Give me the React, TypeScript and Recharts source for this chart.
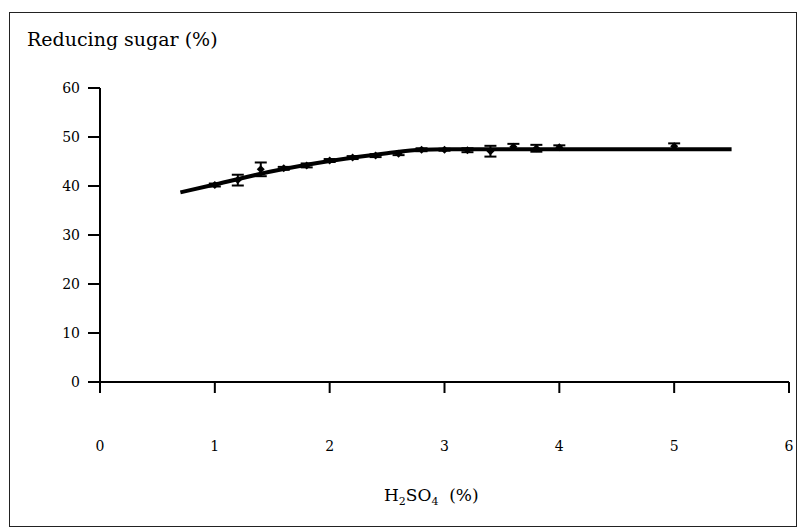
import {
  ComposedChart,
  Line,
  Scatter,
  ErrorBar,
  XAxis,
  YAxis,
} from "recharts"

// measured points (acid %, reducing sugar %, error)
const acid = [1.0, 1.2, 1.4, 1.6, 1.8, 2.0, 2.2, 2.4, 2.6, 2.8, 3.0, 3.2, 3.4, 3.6, 3.8, 4.0, 5.0]
const sugar = [40.2, 41.2, 43.4, 43.6, 44.2, 45.2, 45.8, 46.2, 46.6, 47.4, 47.4, 47.3, 47.1, 48.0, 47.7, 47.9, 48.1]
const sugarErr = [0.3, 1.1, 1.4, 0.3, 0.4, 0.3, 0.3, 0.3, 0.3, 0.3, 0.2, 0.4, 1.1, 0.6, 0.7, 0.4, 0.6]

// fitted curve
const fitAcid = [0.7, 1.0, 1.5, 2.0, 2.5, 2.8, 3.0, 4.0, 5.5]
const fitSugar = [38.7, 40.3, 43.0, 45.1, 46.7, 47.4, 47.5, 47.5, 47.5]

const xTicks = [0, 1, 2, 3, 4, 5, 6]
const yTicks = [0, 10, 20, 30, 40, 50, 60]

const points = acid.map((x, i) => ({ x, y: sugar[i], err: sugarErr[i] }))
const fit = fitAcid.map((x, i) => ({ x, y: fitSugar[i] }))

const FONT = "'DejaVu Serif', serif"

const Diamond = (props: any) => {
  const { cx, cy } = props
  return (
    <path
      d={`M${cx - 4},${cy} L${cx},${cy - 4} L${cx + 4},${cy} L${cx},${cy + 4} Z`}
      fill="#000"
    />
  )
}

export default function App() {
  return (
    <div style={{ position: "fixed", left: 0, top: 0, width: 799, height: 529, background: "#fff" }}>
      <div
        style={{
          position: "absolute",
          left: 9,
          top: 12,
          width: 788,
          height: 515,
          border: "1px solid #222",
          boxSizing: "border-box",
        }}
      />
      <div
        style={{
          position: "absolute",
          left: 27,
          top: 28,
          fontFamily: FONT,
          fontSize: 19,
          color: "#000",
          whiteSpace: "nowrap",
        }}
      >
        Reducing sugar (%)
      </div>
      <div
        style={{
          position: "absolute",
          left: 384,
          top: 485,
          fontFamily: FONT,
          fontSize: 17,
          color: "#000",
          whiteSpace: "nowrap",
        }}
      >
        H<sub style={{ fontSize: 11 }}>2</sub>SO<sub style={{ fontSize: 11 }}>4</sub>&nbsp;&nbsp;(%)
      </div>
      <ComposedChart
        width={799}
        height={529}
        margin={{ top: 88, right: 10, bottom: 47, left: 0 }}
        style={{ position: "absolute", left: 0, top: 0 }}
      >
        <XAxis
          type="number"
          dataKey="x"
          domain={[0, 6]}
          ticks={xTicks}
          height={100}
          tickSize={11}
          tickMargin={48}
          stroke="#000"
          strokeWidth={2}
          tick={{ fill: "#000", fontFamily: FONT, fontSize: 14 }}
          allowDataOverflow
        />
        <YAxis
          type="number"
          dataKey="y"
          domain={[0, 60]}
          ticks={yTicks}
          width={100}
          tickSize={12}
          tickMargin={8}
          stroke="#000"
          strokeWidth={2}
          tick={{ fill: "#000", fontFamily: FONT, fontSize: 14 }}
        />
        <Line
          data={fit}
          dataKey="y"
          type="monotone"
          stroke="#000"
          strokeWidth={4}
          dot={false}
          activeDot={false}
          isAnimationActive={false}
        />
        <Scatter data={points} dataKey="y" shape={<Diamond />} isAnimationActive={false}>
          <ErrorBar dataKey="err" direction="y" width={6} stroke="#000" strokeWidth={2} />
        </Scatter>
      </ComposedChart>
    </div>
  )
}
